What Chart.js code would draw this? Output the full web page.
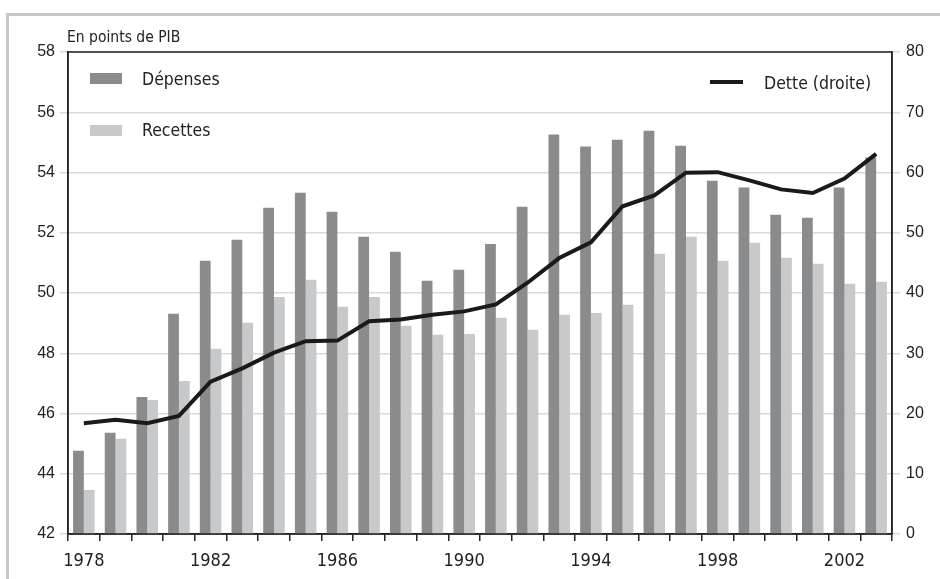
<!DOCTYPE html>
<html>
<head>
<meta charset="utf-8">
<script src="https://cdn.jsdelivr.net/npm/chart.js@4.4.1/dist/chart.umd.min.js"></script>
<style>
  body { margin: 0; background: #fff; }
  canvas { display: block; }
</style>
</head>
<body>
<canvas id="debtChart" width="940" height="579"></canvas>
<script>
// Données
const years = ['1978', '1979', '1980', '1981', '1982', '1983', '1984', '1985', '1986', '1987', '1988', '1989', '1990',
               '1991', '1992', '1993', '1994', '1995', '1996', '1997', '1998', '1999', '2000', '2001', '2002', '2003'];
const depenses = [44.76, 45.36, 46.55, 49.31, 51.07, 51.77, 52.83, 53.33, 52.70, 51.87, 51.37, 50.41, 50.77,
                  51.63, 52.86, 55.26, 54.86, 55.09, 55.39, 54.89, 53.73, 53.50, 52.60, 52.50, 53.50, 54.50];
const recettes = [43.46, 45.16, 46.45, 47.08, 48.15, 49.01, 49.87, 50.44, 49.54, 49.87, 48.91, 48.61, 48.64,
                  49.18, 48.78, 49.28, 49.34, 49.61, 51.30, 51.87, 51.07, 51.67, 51.17, 50.97, 50.31, 50.37];
const dette = [18.4, 18.95, 18.4, 19.6, 25.3, 27.5, 30.1, 32.0, 32.1, 35.3, 35.6, 36.4, 36.95,
               38.1, 41.7, 45.8, 48.4, 54.4, 56.2, 59.96, 60.06, 58.7, 57.2, 56.6, 59.0, 63.1];
const leftTicks = { min: 42, max: 58, step: 2 };
const rightTicks = { min: 0, max: 80, step: 10 };

const narrow = '"DejaVu Sans Condensed", "DejaVu Sans", sans-serif';

// cadre, titre d'axe, bordure du graphique et légende
const decor = {
    id: 'decor',
    beforeDraw(chart) {
        const c = chart.ctx;
        c.save();
        c.fillStyle = '#fff';
        c.fillRect(0, 0, chart.width, chart.height);
        c.strokeStyle = '#c8c8c8';
        c.lineWidth = 3;
        c.beginPath();
        c.moveTo(7.5, chart.height);
        c.lineTo(7.5, 14.5);
        c.lineTo(chart.width, 14.5);
        c.stroke();
        c.restore();
    },
    afterDraw(chart) {
        const c = chart.ctx;
        const a = chart.chartArea;
        c.save();
        c.strokeStyle = '#222';
        c.lineWidth = 1.5;
        c.strokeRect(a.left, a.top, a.right - a.left, a.bottom - a.top);

        c.fillStyle = '#222';
        c.font = '15.5px ' + narrow;
        c.textBaseline = 'middle';
        c.textAlign = 'left';
        c.fillText('En points de PIB', 67, 38);

        const ds = chart.data.datasets;
        c.font = '17.5px ' + narrow;
        // Dépenses
        c.fillStyle = ds[0].backgroundColor;
        c.fillRect(90, 73, 32, 11);
        c.fillStyle = '#222';
        c.fillText(ds[0].label, 142, 80);
        // Recettes
        c.fillStyle = ds[1].backgroundColor;
        c.fillRect(90, 125, 32, 11);
        c.fillStyle = '#222';
        c.fillText(ds[1].label, 142, 131);
        // Dette
        c.strokeStyle = ds[2].borderColor;
        c.lineWidth = 4;
        c.beginPath();
        c.moveTo(710, 82);
        c.lineTo(743, 82);
        c.stroke();
        c.fillText(ds[2].label, 764, 84);
        c.restore();
    }
};

const ctx = document.getElementById('debtChart').getContext('2d');
const chart = new Chart(ctx, {
    type: 'bar',
    data: {
        labels: years,
        datasets: [{
            label: 'Dépenses',
            data: depenses,
            backgroundColor: '#8a8b8d',
            categoryPercentage: 0.68,
            barPercentage: 1,
            yAxisID: 'y',
            order: 1
        }, {
            label: 'Recettes',
            data: recettes,
            backgroundColor: '#c8c9cb',
            categoryPercentage: 0.68,
            barPercentage: 1,
            yAxisID: 'y',
            order: 1
        }, {
            type: 'line',
            label: 'Dette (droite)',
            data: dette,
            borderColor: '#1a1a1a',
            borderWidth: 4,
            pointRadius: 0,
            tension: 0,
            yAxisID: 'y1',
            order: 0
        }]
    },
    options: {
        responsive: false,
        animation: false,
        layout: { padding: { top: 52, left: 0, right: 0, bottom: 0 } },
        plugins: {
            legend: { display: false },
            tooltip: { enabled: false }
        },
        scales: {
            x: {
                afterFit: s => { s.height = 45; },
                grid: { drawOnChartArea: false, drawTicks: true, tickLength: 7, color: '#222', lineWidth: 1.5, offset: true },
                border: { color: '#222', width: 1.5 },
                ticks: {
                    autoSkip: false,
                    maxRotation: 0,
                    padding: 10,
                    color: '#222',
                    font: { family: narrow, size: 18 },
                    callback: (v, i) => (i % 4 === 0 ? years[i] : '')
                }
            },
            y: {
                position: 'left',
                min: leftTicks.min,
                max: leftTicks.max,
                afterFit: s => { s.width = 68; },
                grid: { color: '#d9d9d9', lineWidth: 1.5, tickLength: 8 },
                border: { color: '#222', width: 1.5 },
                ticks: {
                    stepSize: leftTicks.step,
                    padding: 5,
                    color: '#222',
                    font: { family: '"Liberation Sans", sans-serif', size: 16 }
                }
            },
            y1: {
                position: 'right',
                min: rightTicks.min,
                max: rightTicks.max,
                afterFit: s => { s.width = 48; },
                grid: { drawOnChartArea: false, color: '#d9d9d9', lineWidth: 1.5, tickLength: 8 },
                border: { color: '#222', width: 1.5 },
                ticks: {
                    stepSize: rightTicks.step,
                    padding: 6,
                    color: '#222',
                    font: { family: '"Liberation Sans", sans-serif', size: 16 }
                }
            }
        }
    },
    plugins: [decor]
});
</script>
</body>
</html>
